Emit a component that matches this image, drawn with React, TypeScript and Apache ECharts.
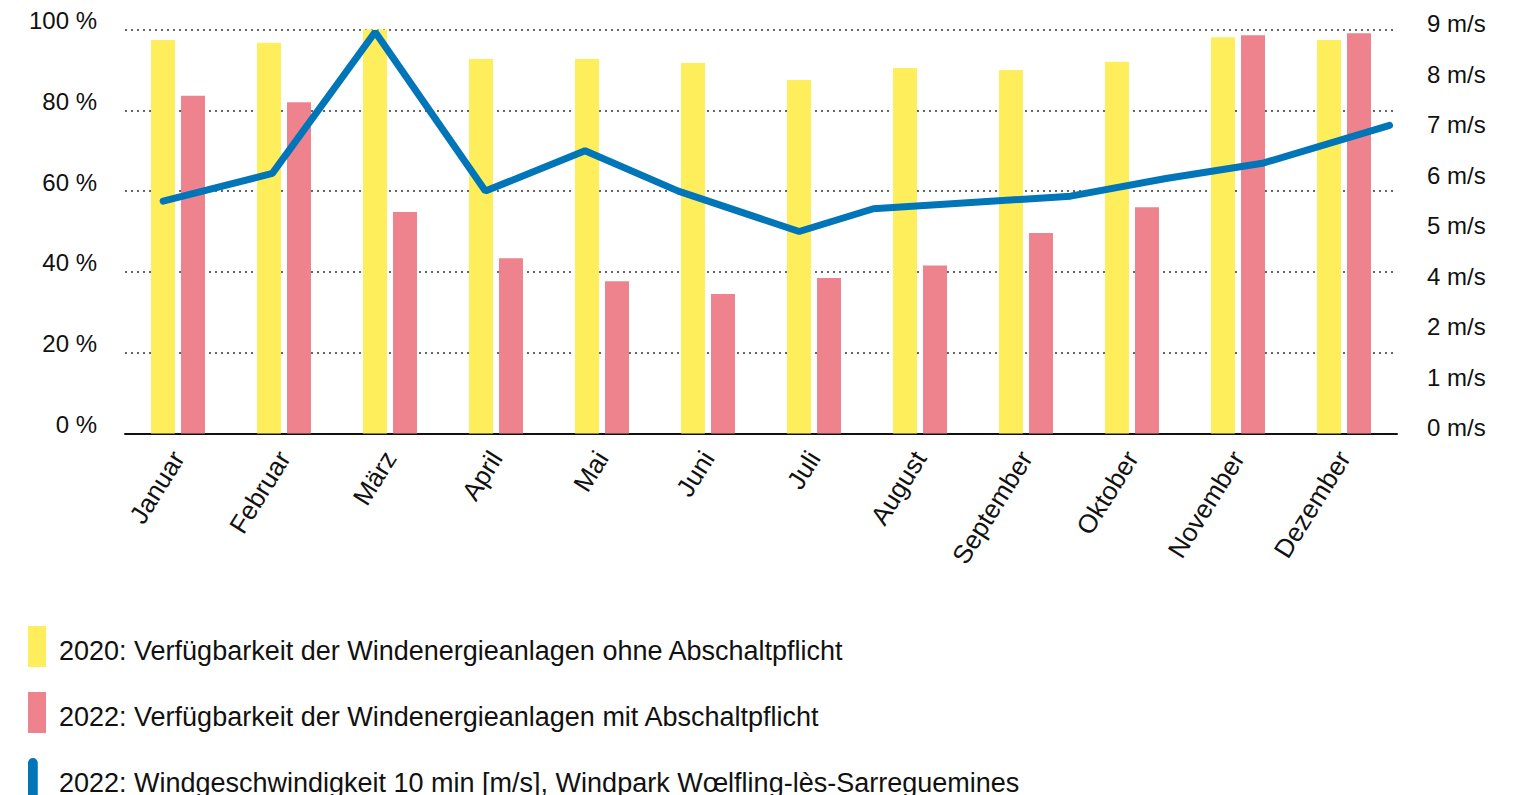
import React, { useEffect, useRef } from "react";
import * as echarts from "echarts";

const months = ["Januar", "Februar", "März", "April", "Mai", "Juni", "Juli", "August", "September", "Oktober", "November", "Dezember"];
const availability2020 = [97.4, 96.7, 100, 92.7, 92.7, 91.7, 87.5, 90.5, 90.0, 92.0, 98.1, 97.4];
const availability2022 = [83.6, 82.0, 54.8, 43.4, 37.7, 34.5, 38.5, 41.6, 49.6, 56.0, 98.6, 99.1];
const windSpeed = [5.6, 6.15, 8.95, 5.8, 6.6, 5.8, 5.0, 5.45, 5.7, 6.05, 6.35, 7.1];
const windMonthPos = [-0.14, 0.89, 1.86, 2.9, 3.84, 4.72, 5.86, 6.56, 8.42, 9.32, 10.23, 11.43];
const percentTicks = [0, 20, 40, 60, 80, 100];
const speedTicks = [0, 1, 2, 4, 5, 6, 7, 8, 9];

const seriesNames = [
  "2020: Verfügbarkeit der Windenergieanlagen ohne Abschaltpflicht",
  "2022: Verfügbarkeit der Windenergieanlagen mit Abschaltpflicht",
  "2022: Windgeschwindigkeit 10 min [m/s], Windpark Wœlfling-lès-Sarreguemines",
];

const YELLOW = "#FFEE5C";
const PINK = "#EE838D";
const BLUE = "#0075B8";
const FONT = "Liberation Sans";

// position of a speed on the right axis, whose tick labels are speedTicks
function toAxisPos(v: number): number {
  for (let i = 0; i < speedTicks.length - 1; i++) {
    const a = speedTicks[i];
    const b = speedTicks[i + 1];
    if (v >= a && v <= b) return i + (v - a) / (b - a);
  }
  return speedTicks.length - 1;
}

const legendTops = [626, 692, 758];

export default function App() {
  const ref = useRef<HTMLDivElement>(null);
  useEffect(() => {
    document.body.style.margin = "0";
    const chart = echarts.init(ref.current!, null, { renderer: "svg" });
    const legendIcons = [
      { icon: "rect" },
      { icon: "rect" },
      { icon: "path://M0,5 A5,5 0 0 1 10,5 L10,42 L0,42 Z", itemStyle: { color: BLUE, borderWidth: 0 } },
    ];
    const legends = seriesNames.map((name, i) => ({
      orient: "vertical",
      left: 28,
      top: legendTops[i],
      padding: 0,
      itemWidth: 18,
      itemHeight: 41,
      selectedMode: false,
      formatter: (n: string) => `{t|${n}}`,
      textStyle: {
        fontSize: 27,
        color: "#111",
        fontFamily: FONT,
        rich: {
          t: {
            fontSize: 27,
            color: "#111",
            fontFamily: FONT,
            padding: [8, 0, 0, i === 2 ? 12 : 8],
          },
        },
      },
      data: [{ name, ...legendIcons[i] }],
    }));
    const option: any = {
      animation: false,
      backgroundColor: "#ffffff",
      textStyle: { fontFamily: FONT },
      grid: { left: 125, right: 123, top: 29.5, bottom: 361.5, containLabel: false },
      legend: legends,
      xAxis: [
        {
          type: "category",
          data: months,
          axisLine: { show: true, lineStyle: { color: "#111", width: 2 } },
          axisTick: { show: false },
          axisLabel: { rotate: 58, fontSize: 26, color: "#111", fontFamily: FONT, margin: 20, interval: 0 },
          splitLine: { show: false },
        },
        {
          type: "value",
          min: -0.5,
          max: 11.5,
          show: false,
        },
      ],
      yAxis: [
        {
          type: "value",
          min: 0,
          max: 100,
          interval: 20,
          axisLine: { show: false },
          axisTick: { show: false },
          axisLabel: {
            formatter: (v: number) => (percentTicks.includes(v) ? `${v} %` : ""),
            fontSize: 24,
            color: "#111",
            fontFamily: FONT,
            margin: 28,
            verticalAlign: "bottom",
            lineHeight: 18,
          },
          splitLine: { show: true, lineStyle: { color: "#333", type: [2, 4], width: 1.5 } },
        },
        {
          type: "value",
          min: 0,
          max: speedTicks.length - 1,
          interval: 1,
          position: "right",
          axisLine: { show: false },
          axisTick: { show: false },
          splitLine: { show: false },
          axisLabel: {
            formatter: (v: number) => `${speedTicks[v]} m/s`,
            fontSize: 24,
            color: "#111",
            fontFamily: FONT,
            margin: 30,
            align: "left",
            verticalAlign: "bottom",
            lineHeight: 12,
          },
        },
      ],
      series: [
        {
          name: seriesNames[0],
          type: "bar",
          data: availability2020,
          barWidth: 24,
          barGap: "25%",
          itemStyle: { color: YELLOW },
          xAxisIndex: 0,
          yAxisIndex: 0,
        },
        {
          name: seriesNames[1],
          type: "bar",
          data: availability2022,
          barWidth: 24,
          barGap: "25%",
          itemStyle: { color: PINK },
          xAxisIndex: 0,
          yAxisIndex: 0,
        },
        {
          name: seriesNames[2],
          type: "line",
          xAxisIndex: 1,
          yAxisIndex: 1,
          data: windSpeed.map((v, i) => [windMonthPos[i], toAxisPos(v)]),
          symbol: "none",
          itemStyle: { color: BLUE },
          lineStyle: { color: BLUE, width: 7, cap: "round" },
          z: 5,
        },
      ],
    };
    chart.setOption(option);
    return () => chart.dispose();
  }, []);
  return <div ref={ref} style={{ width: 1520, height: 795 }} />;
}
